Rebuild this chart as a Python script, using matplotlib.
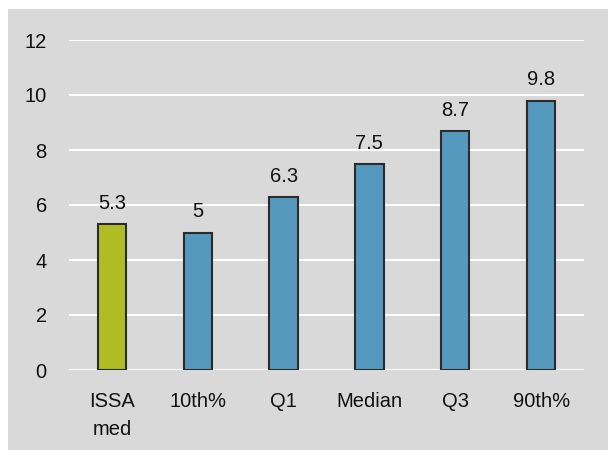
import matplotlib.pyplot as plt
import matplotlib.patches as mpatches
import numpy as np

plt.rcParams['font.family'] = ['Liberation Sans', 'DejaVu Sans']

categories = ['ISSA\nmed', '10th%', 'Q1', 'Median', 'Q3', '90th%']
values = [5.3, 5, 6.3, 7.5, 8.7, 9.8]
value_labels = ['5.3', '5', '6.3', '7.5', '8.7', '9.8']
colors = ['#b0bd22', '#5599be', '#5599be', '#5599be', '#5599be', '#5599be']

fig = plt.figure(figsize=(6.08, 4.5), dpi=100)
fig.patch.set_facecolor('white')
# grey panel behind the chart
bg = mpatches.Rectangle((8 / 608, 0), 600 / 608, 441 / 450, transform=fig.transFigure,
                        facecolor='#d9d9d9', edgecolor='none', zorder=-10)
fig.patches.append(bg)

ax = fig.add_axes([69 / 608, 1 - 370 / 450, (584 - 69) / 608, (370 - 40) / 450])
ax.set_facecolor('none')
ax.set_zorder(1)

x = np.arange(len(categories))
ax.bar(x, values, width=0.33, color=colors, edgecolor='#2b2b2b', linewidth=1.5, zorder=3)

for xi, v, lab in zip(x, values, value_labels):
    ax.annotate(lab, (xi, v), xytext=(0, 8), textcoords='offset points',
                ha='center', va='bottom', fontsize=14.5, color='#111111')

ax.set_xlim(-0.5, len(categories) - 0.5)
ax.set_ylim(0, 12)
ax.set_yticks(np.arange(0, 13, 2))
ax.yaxis.grid(True, color='white', linewidth=1.5, zorder=1)
ax.set_axisbelow(True)
for s in ax.spines.values():
    s.set_visible(False)

ax.set_xticks(x)
ax.set_xticklabels(categories, fontsize=14.5, color='#111111', linespacing=1.6)
ax.tick_params(axis='y', length=0, pad=16, labelsize=14.5, labelcolor='#111111')
ax.tick_params(axis='x', length=0, pad=16)

fig.savefig('out.png', dpi=100, facecolor=fig.get_facecolor())
